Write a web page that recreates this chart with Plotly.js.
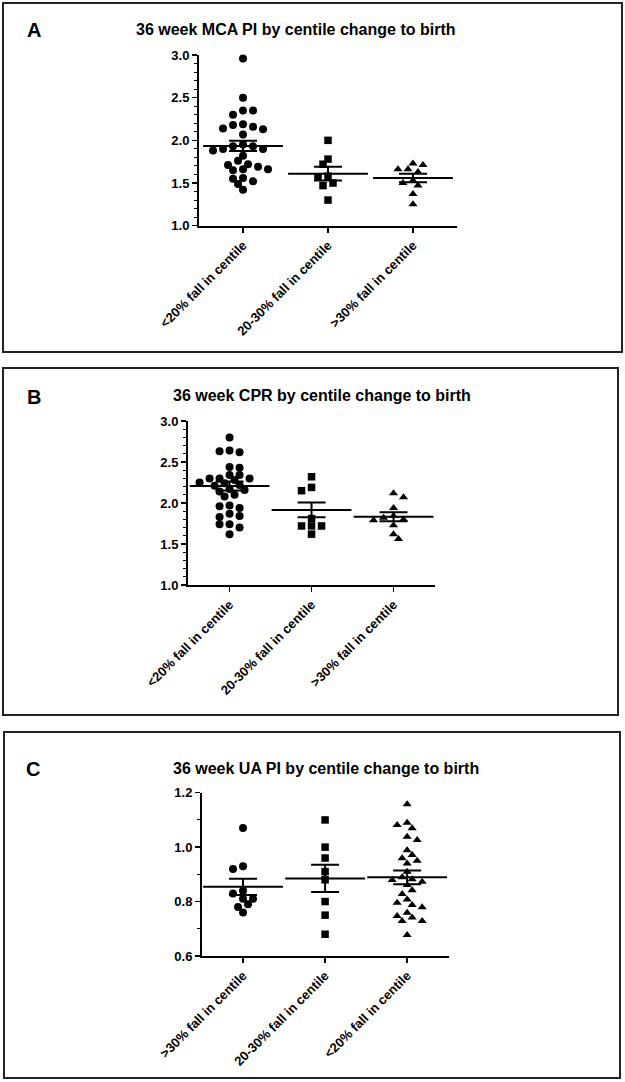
<!DOCTYPE html>
<html>
<head>
<meta charset="utf-8">
<script src="https://cdn.plot.ly/plotly-3.0.1.min.js"></script>
<style>html,body{margin:0;padding:0;background:#fff;}#chart{width:625px;height:1082px;}</style>
</head>
<body>
<div id="chart"></div>
<script>
// ---------- DATA ----------
const catsAB = ['<20% fall in centile', '20-30% fall in centile', '>30% fall in centile'];
const catsC = ['>30% fall in centile', '20-30% fall in centile', '<20% fall in centile'];

// Panel A: 36 week MCA PI
const mcaLt20 = [2.96, 2.50, 2.35, 2.35, 2.30, 2.14, 2.18, 2.13, 2.16, 2.19, 2.07, 1.93, 1.90, 1.95, 1.88, 1.90, 1.93, 1.82, 1.72, 1.76, 1.69, 1.66, 1.71, 1.65, 1.66, 1.56, 1.52, 1.55, 1.49, 1.42];
const mca2030 = [2.00, 1.78, 1.72, 1.58, 1.50, 1.47, 1.57, 1.30];
const mcaGt30 = [1.73, 1.66, 1.63, 1.66, 1.71, 1.50, 1.47, 1.53, 1.37, 1.25];
const mcaMean = [1.935, 1.61, 1.56];
const mcaSem = [0.06, 0.08, 0.05];

// Panel B: 36 week CPR
const cprLt20 = [2.80, 2.63, 2.62, 2.64, 2.43, 2.44, 2.34, 2.34, 2.30, 2.30, 2.30, 2.28, 2.24, 2.21, 2.22, 2.25, 2.17, 2.14, 2.16, 2.10, 2.08, 1.97, 1.96, 1.94, 1.87, 1.83, 1.84, 1.74, 1.74, 1.70, 1.62];
const cpr2030 = [2.32, 2.15, 2.19, 1.81, 1.72, 1.72, 1.72, 1.62];
const cprGt30 = [2.12, 2.07, 1.94, 1.82, 1.79, 1.80, 1.73, 1.84, 1.56, 1.62];
const cprMean = [2.207, 1.915, 1.833];
const cprSem = [0.055, 0.09, 0.055];

// Panel C: 36 week UA PI
const uaGt30 = [1.07, 0.92, 0.93, 0.84, 0.81, 0.81, 0.83, 0.79, 0.78, 0.76];
const ua2030 = [1.10, 1.00, 0.96, 0.91, 0.88, 0.80, 0.75, 0.68];
const uaLt20 = [1.158, 1.081, 1.069, 1.090, 1.026, 1.038, 0.989, 0.971, 0.959, 0.940, 0.950, 0.910, 0.879, 0.873, 0.882, 0.889, 0.861, 0.842, 0.828, 0.796, 0.779, 0.787, 0.808, 0.747, 0.729, 0.729, 0.741, 0.759, 0.677];
const uaMean = [0.854, 0.885, 0.889];
const uaSem = [0.03, 0.05, 0.025];

const titles = ['36 week MCA PI by centile change to birth', '36 week CPR by centile change to birth', '36 week UA PI by centile change to birth'];
const letters = ['A', 'B', 'C'];

// ---------- LAYOUT GEOMETRY ----------
const W = 625, H = 1082;
const FONT = 'Liberation Sans, Arial, Helvetica, sans-serif';
const panels = [
  {groups: [mcaLt20, mca2030, mcaGt30], mean: mcaMean, sem: mcaSem, cats: catsAB, yr: [1, 3], dt: 0.5, mn: 0.1,
   xpx: [199, 457], ypx: [225.7, 55], xr: [-0.518, 2.518], box: [3, 3, 622, 352], title: [295, 29], letter: [34, 30]},
  {groups: [cprLt20, cpr2030, cprGt30], mean: cprMean, sem: cprSem, cats: catsAB, yr: [1, 3], dt: 0.5, mn: 0.1,
   xpx: [188, 435], ypx: [585, 421], xr: [-0.507, 2.506], box: [3, 368, 618, 715], title: [322, 396], letter: [34, 397]},
  {groups: [uaGt30, ua2030, uaLt20], mean: uaMean, sem: uaSem, cats: catsC, yr: [0.6, 1.2], dt: 0.2, mn: 0.1,
   xpx: [202, 449], ypx: [956, 792.7], xr: [-0.5, 2.51], box: [4, 732, 620, 1078], title: [326, 768], letter: [33, 769]}
];
const symbols = ['circle', 'square', 'triangle-up'];

function swarm(vals, center, pxPerX, pxPerY, d, step) {
  const placed = [];
  const xs = new Array(vals.length);
  const order = vals.map((v, i) => i).sort((a, b) => vals[b] - vals[a]);
  let flip = false;
  for (const i of order) {
    const yp = vals[i] * pxPerY;
    let k = 0, chosen = null;
    while (chosen === null) {
      let cands = k === 0 ? [0] : [-k * step, k * step];
      if (flip) cands = cands.reverse();
      for (const c of cands) {
        if (placed.every(p => Math.hypot(p.x - c, p.y - yp) >= d)) { chosen = c; break; }
      }
      k++;
    }
    flip = !flip;
    placed.push({x: chosen, y: yp});
    xs[i] = center + chosen / pxPerX;
  }
  return xs;
}

const traces = [];
const layout = {
  width: W, height: H, margin: {l: 0, r: 0, t: 0, b: 0},
  paper_bgcolor: '#fff', plot_bgcolor: 'rgba(0,0,0,0)',
  showlegend: false, font: {family: FONT, color: '#000'},
  shapes: [], annotations: []
};

panels.forEach((p, pi) => {
  const sfx = pi === 0 ? '' : String(pi + 1);
  const xa = 'x' + sfx, ya = 'y' + sfx;
  const pxPerX = (p.xpx[1] - p.xpx[0]) / (p.xr[1] - p.xr[0]);
  const pxPerY = (p.ypx[0] - p.ypx[1]) / (p.yr[1] - p.yr[0]);
  p.groups.forEach((g, gi) => {
    const sym = symbols[gi];
    const xs = swarm(g, gi, pxPerX, pxPerY, 7, 5);
    traces.push({
      type: 'scatter', mode: 'markers', x: xs, y: g, xaxis: xa, yaxis: ya,
      marker: {symbol: sym, size: sym === 'square' ? 7.5 : 8, color: '#000', line: {width: 0}},
      cliponaxis: false, hoverinfo: 'y'
    });
  });
  // mean line + SEM
  traces.push({
    type: 'scatter', mode: 'markers', x: [0, 1, 2], y: p.mean, xaxis: xa, yaxis: ya,
    marker: {symbol: 'line-ew', size: 57, color: '#000', line: {color: '#000', width: 2}},
    error_y: {type: 'data', array: p.sem, visible: true, color: '#000', thickness: 2, width: 14},
    cliponaxis: false, hoverinfo: 'y'
  });
  layout['xaxis' + sfx] = {
    domain: [p.xpx[0] / W, p.xpx[1] / W], range: p.xr, anchor: ya,
    tickmode: 'array', tickvals: [0, 1, 2], ticktext: p.cats, tickangle: -45,
    ticks: 'outside', ticklen: 5, tickwidth: 1.5, tickcolor: '#000',
    showline: true, linecolor: '#000', linewidth: 2, showgrid: false, zeroline: false,
    tickfont: {family: FONT, size: 13, color: '#000', weight: 'bold'}, fixedrange: true
  };
  layout['yaxis' + sfx] = {
    domain: [1 - p.ypx[0] / H, 1 - p.ypx[1] / H], range: p.yr, anchor: xa,
    tick0: p.yr[0], dtick: p.dt, tickformat: '.1f',
    ticks: 'outside', ticklen: 5, tickwidth: 1.5, tickcolor: '#000',
    minor: {dtick: p.mn, ticks: 'outside', ticklen: 3, tickwidth: 1, tickcolor: '#000', showgrid: false},
    showline: true, linecolor: '#000', linewidth: 2, showgrid: false, zeroline: false,
    tickfont: {family: FONT, size: 13, color: '#000', weight: 'bold'}, fixedrange: true
  };
  layout.shapes.push({type: 'rect', xref: 'paper', yref: 'paper',
    x0: p.box[0] / W, x1: p.box[2] / W, y0: 1 - p.box[3] / H, y1: 1 - p.box[1] / H,
    line: {color: '#222', width: 2}, fillcolor: 'rgba(0,0,0,0)'});
  layout.annotations.push({xref: 'paper', yref: 'paper', x: p.title[0] / W, y: 1 - p.title[1] / H,
    xanchor: 'center', yanchor: 'middle', showarrow: false, text: titles[pi],
    font: {family: FONT, size: 16, color: '#000', weight: 'bold'}});
  layout.annotations.push({xref: 'paper', yref: 'paper', x: p.letter[0] / W, y: 1 - p.letter[1] / H,
    xanchor: 'center', yanchor: 'middle', showarrow: false, text: letters[pi],
    font: {family: FONT, size: 20, color: '#000', weight: 'bold'}});
});

Plotly.newPlot('chart', traces, layout, {displayModeBar: false, staticPlot: true});
</script>
</body>
</html>
